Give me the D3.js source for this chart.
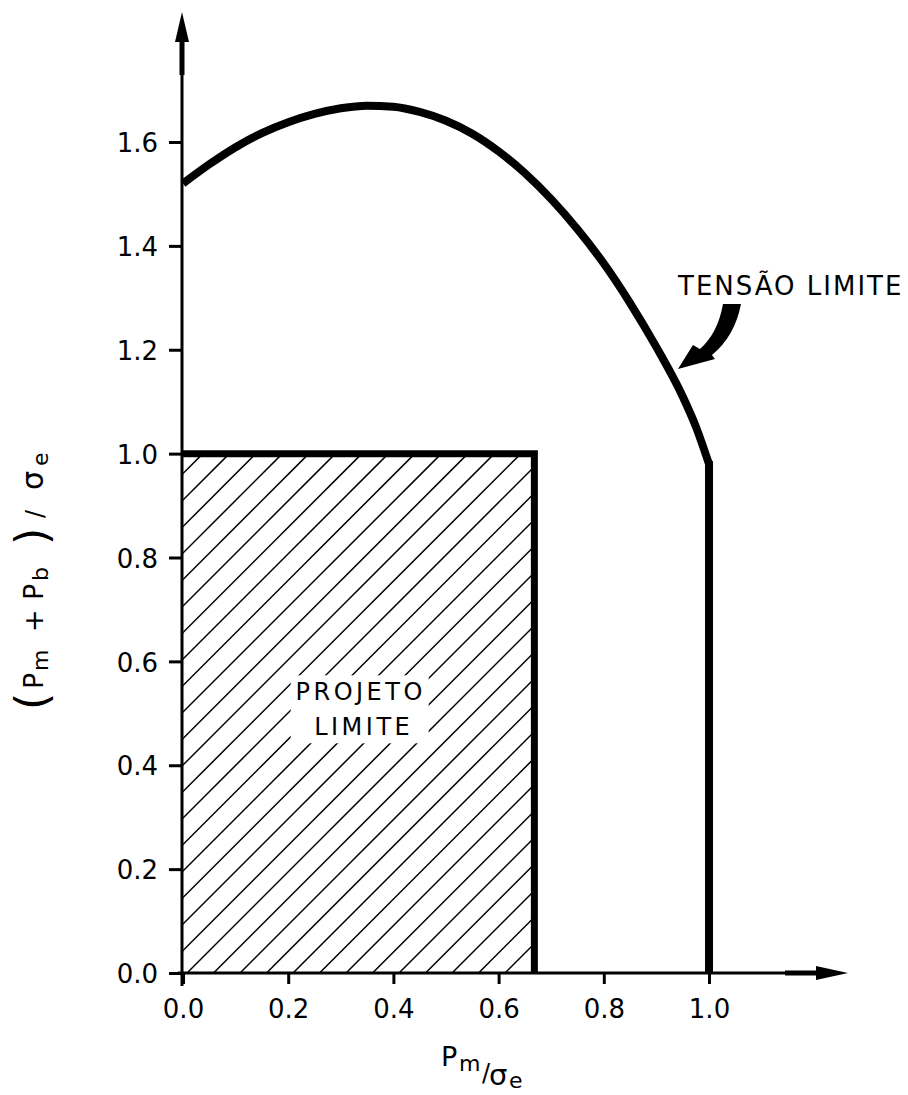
<!DOCTYPE html>
<html><head><meta charset="utf-8">
<script src="https://cdn.jsdelivr.net/npm/d3@7"></script>
<style>body{margin:0;background:#fff}svg{display:block}</style>
</head><body><svg id="c" width="908" height="1095"></svg>
<script>
// ---- data ----
const xTicks = [0, 0.2, 0.4, 0.6, 0.8, 1.0];
const yTicks = [0, 0.2, 0.4, 0.6, 0.8, 1.0, 1.2, 1.4, 1.6];
const limitX = [0, 0.05, 0.1, 0.15, 0.2, 0.25, 0.3, 0.35, 0.4, 0.45, 0.5, 0.55, 0.6, 0.65, 0.7, 0.75, 0.8, 0.85, 0.9, 0.95, 0.975, 1.0];
const limitY = [1.52, 1.557, 1.59, 1.617, 1.638, 1.654, 1.665, 1.67, 1.668, 1.658, 1.641, 1.616, 1.582, 1.54, 1.49, 1.432, 1.366, 1.29, 1.205, 1.11, 1.052, 0.98];
const limitDropY = [0.98, 0];
const projetoX = [0, 0.668];
const projetoY = [0, 1.0];
const arrowTip = [0.941, 1.163];
const curveLabel = "TENSÃO LIMITE";
const boxLabel = ["PROJETO", "LIMITE"];

// ---- setup ----
const svg = d3.select("#c");
const FONT = "DejaVu Sans";
const x = d3.scaleLinear().domain([0, 1]).range([183, 709]);
const y = d3.scaleLinear().domain([0, 1.6]).range([973, 142]);
const axX = x(0) - 1;

// hatched "projeto limite" rectangle
const rx0 = x(projetoX[0]), rx1 = x(projetoX[1]);
const ry0 = y(projetoY[1]), ry1 = y(projetoY[0]);
svg.append("defs").append("clipPath").attr("id", "clipR")
  .append("rect").attr("x", rx0).attr("y", ry0).attr("width", rx1 - rx0).attr("height", ry1 - ry0);
const step = 26.5, phase = 1160;
const cMin = rx0 + ry0, cMax = rx1 + ry1;
const c0 = phase - Math.ceil((phase - cMin) / step) * step;
const hatch = d3.range(c0, cMax + step, step);
svg.append("g").attr("clip-path", "url(#clipR)")
  .selectAll("line").data(hatch).join("line")
  .attr("x1", c => c - ry1).attr("y1", ry1)
  .attr("x2", c => c - ry0).attr("y2", ry0)
  .attr("stroke", "#000").attr("stroke-width", 1.5);

// white box behind label
const lblCx = (rx0 + rx1) / 2 + 2;
const lblCy = y(0.5);
svg.append("rect").attr("x", lblCx - 70).attr("y", lblCy - 38).attr("width", 138).attr("height", 68).attr("fill", "#fff");
svg.append("g").selectAll("text").data(boxLabel).join("text")
  .attr("x", (d, i) => lblCx + (i ? 3 : 0)).attr("y", (d, i) => lblCy - 13 + i * 35)
  .attr("text-anchor", "middle").attr("font-family", FONT).attr("font-size", 24)
  .attr("letter-spacing", 3.5).text(d => d);

// rectangle border (top and right)
svg.append("path")
  .attr("d", `M${rx0},${ry0}H${rx1}V${ry1}`)
  .attr("fill", "none").attr("stroke", "#000").attr("stroke-width", 7).attr("stroke-linejoin", "miter");

// axes
const gx = svg.append("g").attr("transform", `translate(0,${y(0)})`)
  .call(d3.axisBottom(x).tickValues(xTicks).tickSize(11).tickFormat(d3.format(".1f")));
gx.select(".domain").remove();
gx.selectAll(".tick line").attr("stroke-width", 3);
gx.selectAll(".tick text").attr("y", 45).attr("dy", null)
  .attr("font-family", FONT).attr("font-size", 26).attr("fill", "#000");

const gy = svg.append("g").attr("transform", `translate(${axX},0)`)
  .call(d3.axisLeft(y).tickValues(yTicks).tickSize(13).tickFormat(d3.format(".1f")));
gy.select(".domain").remove();
gy.selectAll(".tick line").attr("stroke-width", 3);
gy.selectAll(".tick text").attr("x", -24).attr("dy", "0.37em")
  .attr("font-family", FONT).attr("font-size", 26).attr("fill", "#000");

// axis lines with arrows
const axes = svg.append("g").attr("stroke", "#000").attr("fill", "#000");
axes.append("line").attr("x1", axX).attr("x2", axX).attr("y1", y(0) + 13).attr("y2", 40).attr("stroke-width", 3);
axes.append("line").attr("x1", axX).attr("x2", axX).attr("y1", 75).attr("y2", 40).attr("stroke-width", 5);
axes.append("path").attr("d", `M${axX},12L${axX - 7},42L${axX + 7},42Z`).attr("stroke", "none");
const xEnd = 848;
axes.append("line").attr("x1", axX - 4).attr("x2", xEnd - 30).attr("y1", y(0)).attr("y2", y(0)).attr("stroke-width", 3);
axes.append("line").attr("x1", xEnd - 63).attr("x2", xEnd - 30).attr("y1", y(0)).attr("y2", y(0)).attr("stroke-width", 5);
axes.append("path").attr("d", `M${xEnd},${y(0)}L${xEnd - 32},${y(0) - 7}L${xEnd - 32},${y(0) + 7}Z`).attr("stroke", "none");

// tensao limite curve
const pts = limitX.map((v, i) => [v, limitY[i]]);
svg.append("path").datum(pts)
  .attr("d", d3.line().x(d => x(d[0])).y(d => y(d[1])).curve(d3.curveMonotoneX))
  .attr("fill", "none").attr("stroke", "#000").attr("stroke-width", 8).attr("stroke-linecap", "butt");
svg.append("line")
  .attr("x1", x(1)).attr("x2", x(1)).attr("y1", y(limitDropY[0]) - 3).attr("y2", y(limitDropY[1]))
  .attr("stroke", "#000").attr("stroke-width", 8);

// annotation arrow
const tx = x(arrowTip[0]), ty = y(arrowTip[1]);
const rel = (dx, dy) => `${tx + dx},${ty + dy}`;
svg.append("path")
  .attr("d", `M${rel(45,-65)}L${rel(63,-65)}Q${rel(57,-33)} ${rel(34,-14)}L${rel(37,-10)}L${rel(0,0)}L${rel(15,-24)}L${rel(22,-20)}Q${rel(40,-36)} ${rel(45,-65)}Z`)
  .attr("fill", "#000");
svg.append("text").attr("x", 678).attr("y", 295)
  .attr("font-family", FONT).attr("font-size", 26).attr("letter-spacing", 2)
  .text(curveLabel);

// x axis label  Pm/σe
const xl = svg.append("g").attr("font-family", FONT).attr("fill", "#000");
xl.append("text").attr("x", 441).attr("y", 1066).attr("font-size", 27).text("P");
xl.append("text").attr("x", 459).attr("y", 1071).attr("font-size", 22).text("m");
xl.append("text").attr("x", 482).attr("y", 1081).attr("font-size", 24).text("/");
xl.append("text").attr("x", 489).attr("y", 1085).attr("font-size", 29).text("σ");
xl.append("text").attr("x", 509).attr("y", 1088).attr("font-size", 22).text("e");

// y axis label ( Pm + Pb ) / σe
const yl = svg.append("g").attr("transform", "translate(43,708) rotate(-90)")
  .attr("font-family", FONT).attr("fill", "#000");
const yParts = [
  ["(", -2, 44, 4], ["P", 19, 27, 0], ["m", 37, 22, 5], ["+", 76, 27, 0],
  ["P", 108, 27, 0], ["b", 127, 22, 5], [")", 163, 44, 4], ["/", 190, 24, 0],
  ["σ", 218, 30, 0], ["e", 242, 22, 5]
];
yl.selectAll("text").data(yParts).join("text")
  .attr("x", d => d[1]).attr("y", d => d[3]).attr("font-size", d => d[2]).text(d => d[0]);
</script>
</body></html>
